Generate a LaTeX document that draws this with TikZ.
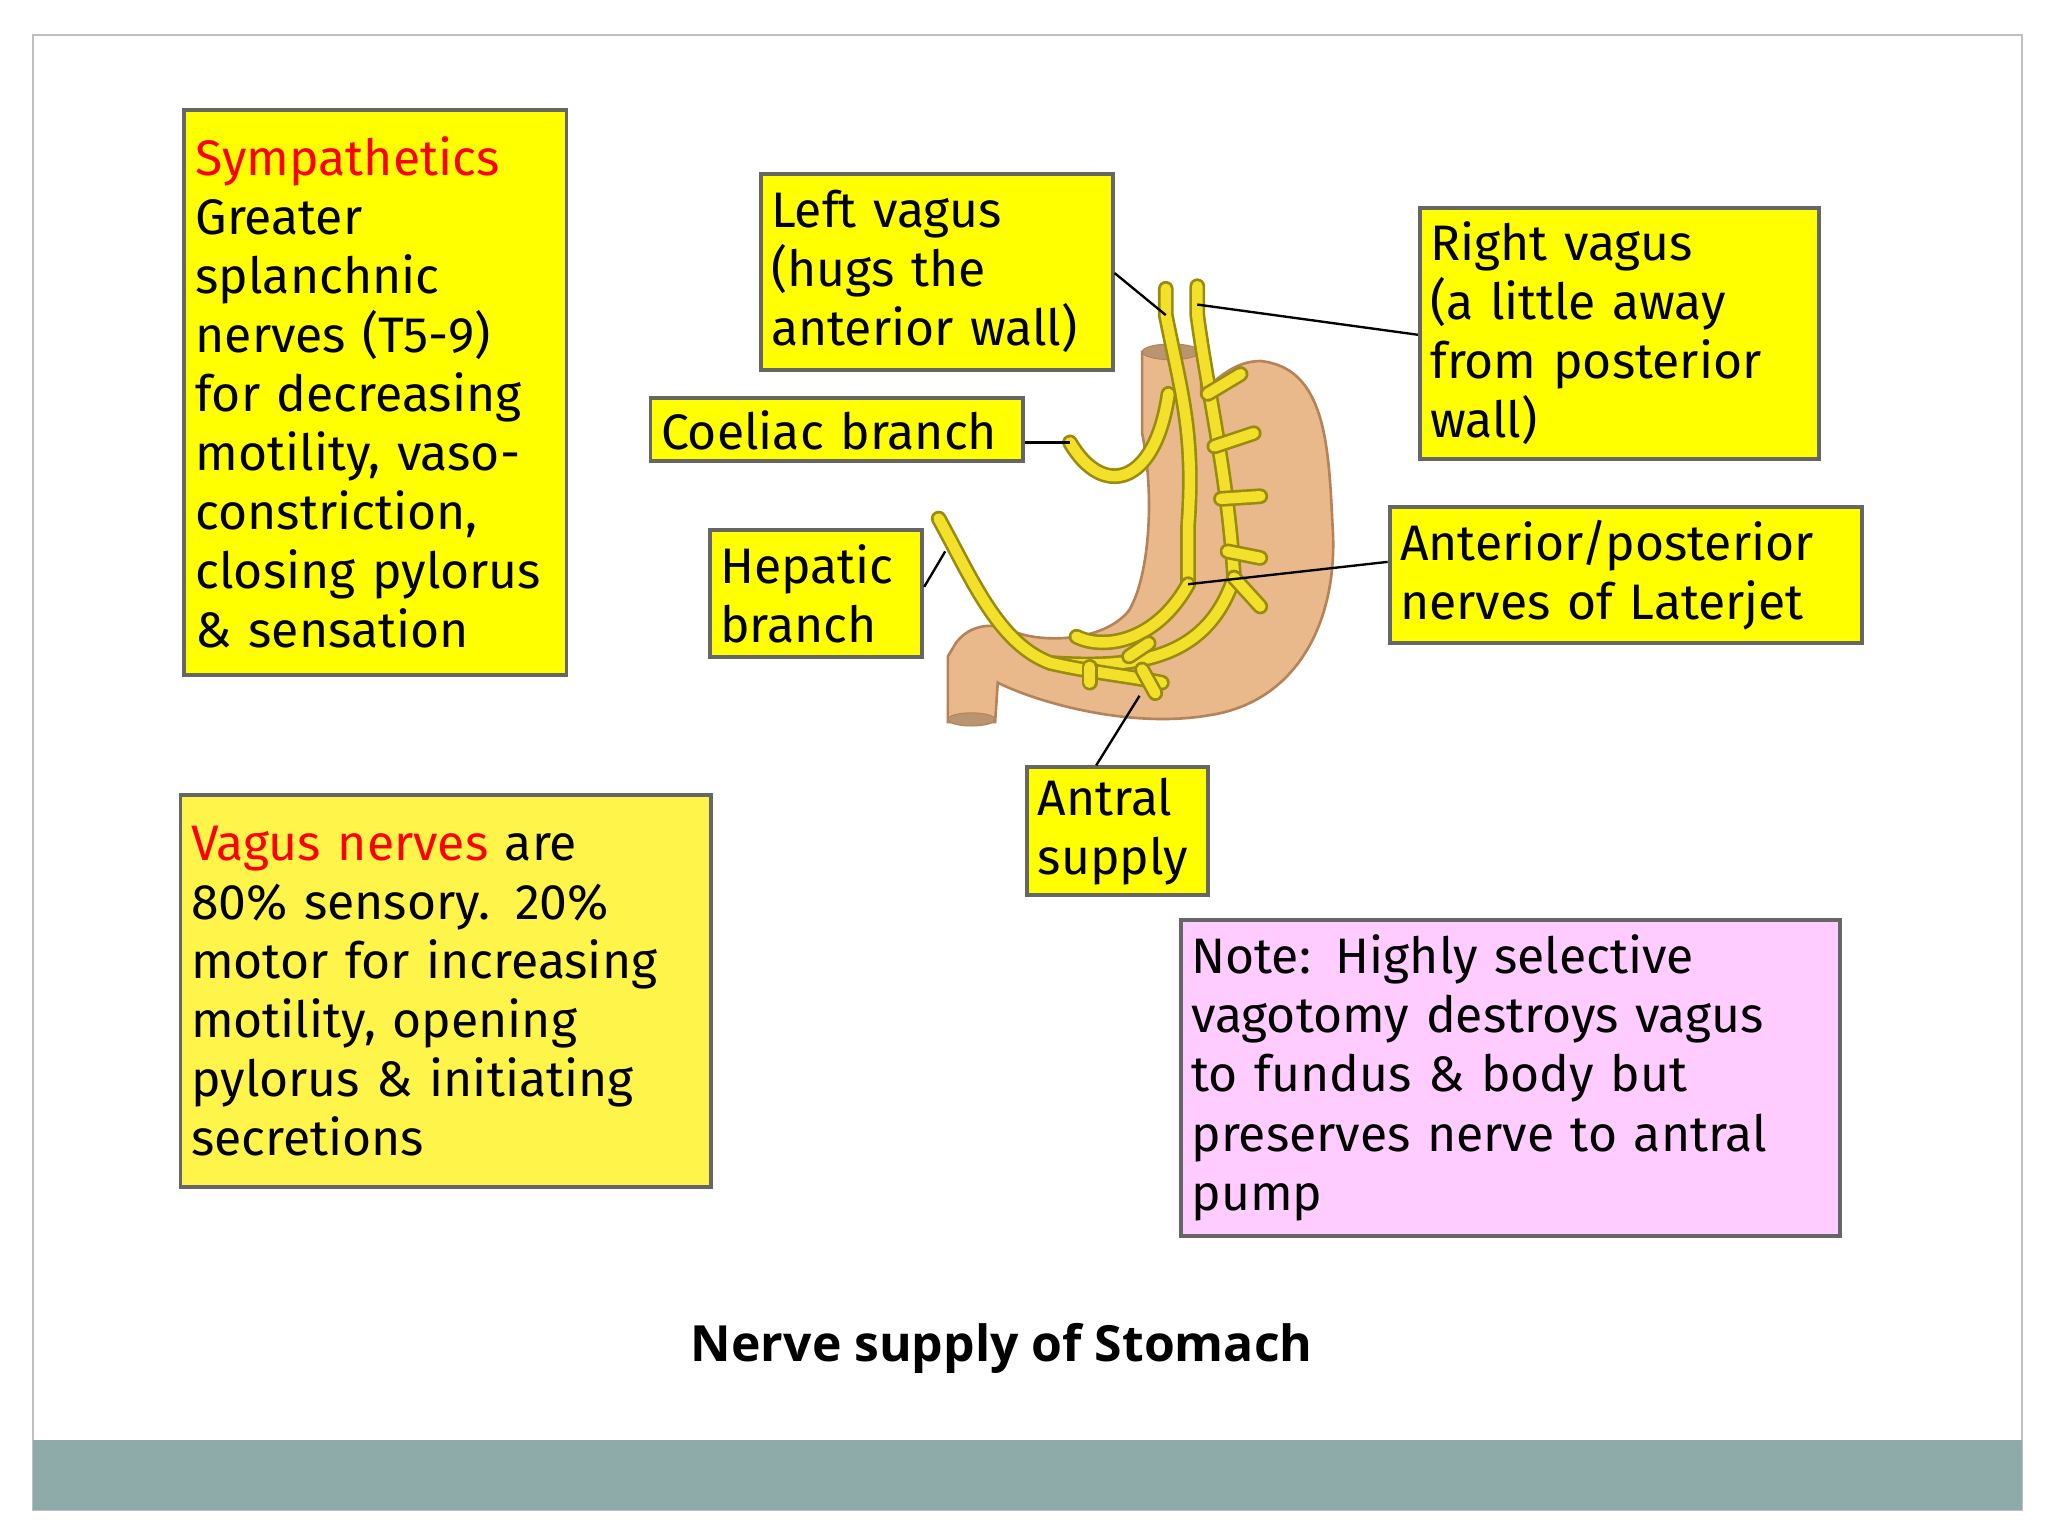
\documentclass[tikz,border=0pt]{standalone}
\usepackage{fontspec}
\setmainfont{Fira Sans}
\newfontfamily\capfont{Open Sans}
\begin{document}
\begin{tikzpicture}[x=0.5pt,y=-0.5pt]
\definecolor{yel}{HTML}{FFFF00}
\definecolor{yel2}{HTML}{FFF54A}
\definecolor{pinkbox}{HTML}{FFCCFF}
\definecolor{tan}{HTML}{E9B98C}
\definecolor{tandark}{HTML}{B5835A}
\definecolor{nerve}{HTML}{F2E02A}
\definecolor{nerveedge}{HTML}{9A8A10}
\definecolor{band}{HTML}{8FABA9}
\tikzset{
 box/.style={draw=black!60, line width=1.5pt, fill=yel, anchor=north west, align=left, inner sep=4pt,
   font=\fontsize{19}{22.5}\selectfont},
 lead/.style={draw=black, line width=0.9pt},
 nerv/.style={draw=nerveedge, line width=6pt, line cap=round, postaction={draw=nerve, line width=4pt}},
}
\useasboundingbox (0,0) rectangle (1560,1170);
\fill[white] (0,0) rectangle (1560,1170);
\draw[black!25, line width=0.8pt] (25,27) rectangle (1540,1150);
\fill[band] (25,1097) rectangle (1540,1150);

% stomach
\draw[tandark, line width=1pt, fill=tan]
 (870,268) -- (870,330) .. controls (880,380) and (875,440) .. (860,465)
 .. controls (840,490) and (790,490) .. (770,480)
 .. controls (750,472) and (735,480) .. (728,490)
 -- (722,500) -- (722,550) -- (758,550) -- (760,520)
 .. controls (790,535) and (860,555) .. (920,545)
 .. controls (990,535) and (1020,470) .. (1015,400)
 .. controls (1012,340) and (1010,280) .. (960,275)
 .. controls (940,275) and (925,290) .. (915,300)
 -- (915,268) -- cycle;
\draw[tandark, fill=tan!80!black] (892,268) ellipse (22 and 6);
\draw[tandark, fill=tan!80!black] (740,548) ellipse (18 and 5);

% nerves
\draw[nerv] (888,220) -- (888,240) .. controls (900,300) and (910,330) .. (905,400) -- (905,445);
\draw[nerv] (912,218) -- (912,240) .. controls (920,300) and (935,360) .. (940,440);
\draw[nerv] (890,300) .. controls (880,370) and (840,380) .. (815,337);
\draw[nerv] (905,445) .. controls (880,490) and (840,495) .. (820,485);
\draw[nerv] (940,440) .. controls (920,500) and (870,510) .. (800,505);
\draw[nerv] (715,395) .. controls (740,440) and (760,490) .. (800,505) .. controls (830,512) and (860,515) .. (885,520);
\foreach \a/\b/\c/\d in {920/300/945/285, 925/340/955/330, 930/380/960/378, 935/420/960/425, 940/440/960/462, 870/510/880/528, 830/508/830/520, 860/500/875/490}
  \draw[nerv] (\a,\b) -- (\c,\d);

% boxes
\node[box, minimum width=145.5pt, minimum height=215.5pt, text width=137pt] (sym) at (139,82)
 {\textcolor{red}{Sympathetics}\\Greater\\splanchnic\\nerves (T5-9)\\for decreasing\\motility, vaso-\\constriction,\\closing pylorus\\\& sensation};
\node[box, fill=yel2, minimum width=202pt, minimum height=149.5pt, text width=194pt] (vag) at (136,604)
 {\textcolor{red}{Vagus nerves} are\\80\% sensory. 20\%\\motor for increasing\\motility, opening\\pylorus \& initiating\\secretions};
\node[box, minimum width=133pt, minimum height=74.5pt, text width=126pt] (lv) at (578,131)
 {Left vagus\\(hugs the\\anterior wall)};
\node[box, minimum width=151.5pt, minimum height=95.5pt, text width=144pt] (rv) at (1080,157)
 {Right vagus\\(a little away\\from posterior\\wall)};
\node[box, minimum width=141pt, minimum height=24pt, text width=134pt] (co) at (494,302)
 {Coeliac branch};
\node[box, minimum width=79.5pt, minimum height=48.5pt, text width=73pt] (he) at (539,402)
 {Hepatic\\branch};
\node[box, minimum width=179.5pt, minimum height=51.5pt, text width=172pt] (la) at (1057,385)
 {Anterior/posterior\\nerves of Laterjet};
\node[box, minimum width=68pt, minimum height=47.5pt, text width=61pt] (an) at (781,583)
 {Antral\\supply};
\node[box, fill=pinkbox, minimum width=251pt, minimum height=120.5pt, text width=243pt] (no) at (898,699)
 {Note: Highly selective\\vagotomy destroys vagus\\to fundus \& body but\\preserves nerve to antral\\pump};

\coordinate (lve) at (888,240);
\coordinate (rve) at (912,232);
\coordinate (coe) at (815,337);
\coordinate (hee) at (720,420);
\coordinate (lae) at (905,445);
\coordinate (ane) at (868,530);
\draw[lead] (lv.east |- 0,208) -- (lve);
\draw[lead] (rv.west |- 0,255) -- (rve);
\draw[lead] (co.east |- 0,337) -- (coe);
\draw[lead] (he.east |- 0,447) -- (hee);
\draw[lead] (la.west |- 0,428) -- (lae);
\draw[lead] (an.north -| 835,0) -- (ane);

\node[font=\capfont\bfseries\fontsize{19}{23}\selectfont] (cap) at (763,1027) {Nerve supply of Stomach};
\end{tikzpicture}
\end{document}
